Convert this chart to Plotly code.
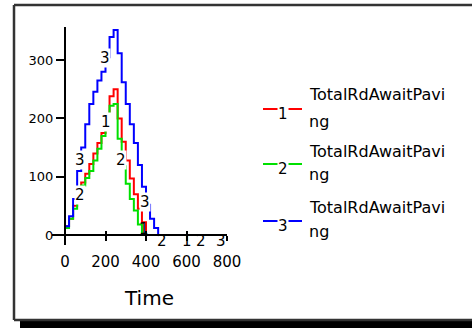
import plotly.graph_objects as go

# ---- data ----
time = [0, 20, 40, 60, 80, 100, 120, 140, 160, 180, 200, 220, 240, 260, 280, 300,
        320, 340, 360, 380, 400, 420, 440, 460, 480, 500, 520, 540, 560, 580, 600,
        620, 640, 660, 680, 700, 720, 740, 760, 780, 800]
series1 = [15, 28, 50, 68, 90, 105, 122, 140, 158, 175, 195, 238, 250, 200, 160, 128,
           97, 70, 45, 22, 0, 0, 0, 0, 0, 0, 0, 0, 0, 0, 0,
           0, 0, 0, 0, 0, 0, 0, 0, 0, 0]
series2 = [12, 28, 45, 65, 85, 98, 110, 128, 148, 170, 188, 222, 225, 165, 118, 88,
           62, 42, 18, 0, 0, 0, 0, 0, 0, 0, 0, 0, 0, 0, 0,
           0, 0, 0, 0, 0, 0, 0, 0, 0, 0]
series3 = [15, 32, 62, 110, 150, 190, 225, 246, 265, 280, 305, 340, 352, 312, 262, 225,
           190, 158, 120, 83, 52, 28, 12, 0, 0, 0, 0, 0, 0, 0, 0,
           0, 0, 0, 0, 0, 0, 0, 0, 0, 0]

names = ["TotalRdAwaitPaving", "TotalRdAwaitPaving", "TotalRdAwaitPaving"]
legend_line1 = "TotalRdAwaitPavi"
legend_line2 = "ng"
marks = ["1", "2", "3"]
colors = ["#ff0000", "#00e000", "#0000ff"]

lab1_x = [200, 388, 600]
lab1_y = [194, 10, 0]
lab2_x = [74, 275, 481, 672]
lab2_y = [68, 129, 0, 0]
lab3_x = [74, 198, 395, 770]
lab3_y = [129, 304, 57, 0]

x_ticks = [0, 200, 400, 600, 800]
y_ticks = [0, 100, 200, 300]
x_title = "Time"

# ---- layout geometry (pixels) ----
W, H = 472, 328
L, R, T, B = 52, 227, 27, 245   # plot area in pixels
pw, ph = R - L, B - T


def px(xp):
    return (xp - L) / pw


def py(yp):
    return (B - yp) / ph


FONT = "DejaVu Sans"

fig = go.Figure()
series = [series1, series2, series3]
for s, c, n in zip(series, colors, names):
    fig.add_trace(go.Scatter(x=time, y=s, mode="lines", line=dict(color=c, width=2, shape="hv"),
                             name=n, showlegend=False, hoverinfo="skip"))
# dummy trace for the overlay axis (inside half of crossing ticks)
fig.add_trace(go.Scatter(x=[], y=[], xaxis="x2", showlegend=False))

annotations = []
for lx, ly, m in [(lab1_x, lab1_y, "1"), (lab2_x, lab2_y, "2"), (lab3_x, lab3_y, "3")]:
    for xv, yv in zip(lx, ly):
        annotations.append(dict(x=xv, y=yv, xref="x", yref="y", text=m, showarrow=False,
                                font=dict(family=FONT, size=15, color="black"),
                                bgcolor="white" if yv >= 40 else "rgba(0,0,0,0)",
                                borderpad=0, xanchor="center", yanchor="middle",
                                yshift=-6 if yv == 0 else 0))

# axis title
annotations.append(dict(x=px(149), y=py(298), xref="paper", yref="paper", text=x_title,
                        showarrow=False, font=dict(family=FONT, size=20, color="black"),
                        xanchor="center", yanchor="middle"))

shapes = []
# outer frame (top, left, bottom) + shadow
shapes.append(dict(type="rect", xref="paper", yref="paper", x0=px(20), x1=px(472),
                   y0=py(330), y1=py(321), fillcolor="black", line=dict(width=0), layer="below"))
for (x0, y0, x1, y1) in [(14, 5, 472, 5), (14, 5, 14, 320), (14, 320, 472, 320)]:
    shapes.append(dict(type="line", xref="paper", yref="paper", x0=px(x0), x1=px(x1),
                       y0=py(y0), y1=py(y1), line=dict(color="#333333", width=2.5),
                       layer="below"))

# manual legend
leg_lines = [109, 164, 221]
leg_text1 = [94, 151, 207]
leg_text2 = [121, 175, 231]
for i in range(3):
    shapes.append(dict(type="line", xref="paper", yref="paper", x0=px(263), x1=px(302),
                       y0=py(leg_lines[i]), y1=py(leg_lines[i]),
                       line=dict(color=colors[i], width=2)))
    annotations.append(dict(x=px(282.5), y=py(leg_lines[i] + 5), xref="paper", yref="paper",
                            text=marks[i], showarrow=False, bgcolor="white", borderpad=0,
                            font=dict(family=FONT, size=15, color="black"),
                            xanchor="center", yanchor="middle"))
    annotations.append(dict(x=px(307), y=py(leg_text1[i]), xref="paper", yref="paper",
                            text=legend_line1, showarrow=False,
                            font=dict(family=FONT, size=16, color="black"),
                            xanchor="left", yanchor="middle"))
    annotations.append(dict(x=px(307), y=py(leg_text2[i]), xref="paper", yref="paper",
                            text=legend_line2, showarrow=False,
                            font=dict(family=FONT, size=16, color="black"),
                            xanchor="left", yanchor="middle"))

xr0 = -(65 - L) / 162 * 800
yr0 = -(B - 235) / 208 * 357
x_axis_pos = py(235)
y_axis_pos = px(65)

fig.update_layout(
    width=W, height=H,
    margin=dict(l=L, r=W - R, t=T, b=H - B, pad=0),
    paper_bgcolor="white", plot_bgcolor="white",
    showlegend=False,
    xaxis=dict(range=[xr0, 800], anchor="free", position=x_axis_pos, showline=True,
               linecolor="black", linewidth=2, showgrid=False, zeroline=False,
               tickvals=x_ticks, ticks="outside", ticklen=5, tickwidth=2, tickcolor="black",
               tickfont=dict(family=FONT, size=15, color="black"), ticklabelstandoff=8,
               fixedrange=True),
    xaxis2=dict(range=[xr0, 800], overlaying="x", anchor="free", position=x_axis_pos,
                showline=False, showgrid=False, zeroline=False, tickvals=x_ticks[1:],
                ticks="inside", ticklen=4, tickwidth=2, tickcolor="black",
                showticklabels=False),
    yaxis=dict(range=[yr0, 357], anchor="free", position=y_axis_pos, showline=True,
               linecolor="black", linewidth=2, showgrid=False, zeroline=False,
               tickvals=y_ticks, ticks="outside", ticklen=8, tickwidth=2, tickcolor="black",
               tickfont=dict(family=FONT, size=13, color="black"), fixedrange=True),
    annotations=annotations,
    shapes=shapes,
)

fig.write_html(
    "out.html", config={"displayModeBar": False},
    post_script="document.body.style.margin='0';document.body.style.overflow='hidden';"
                "document.documentElement.style.overflow='hidden';")
